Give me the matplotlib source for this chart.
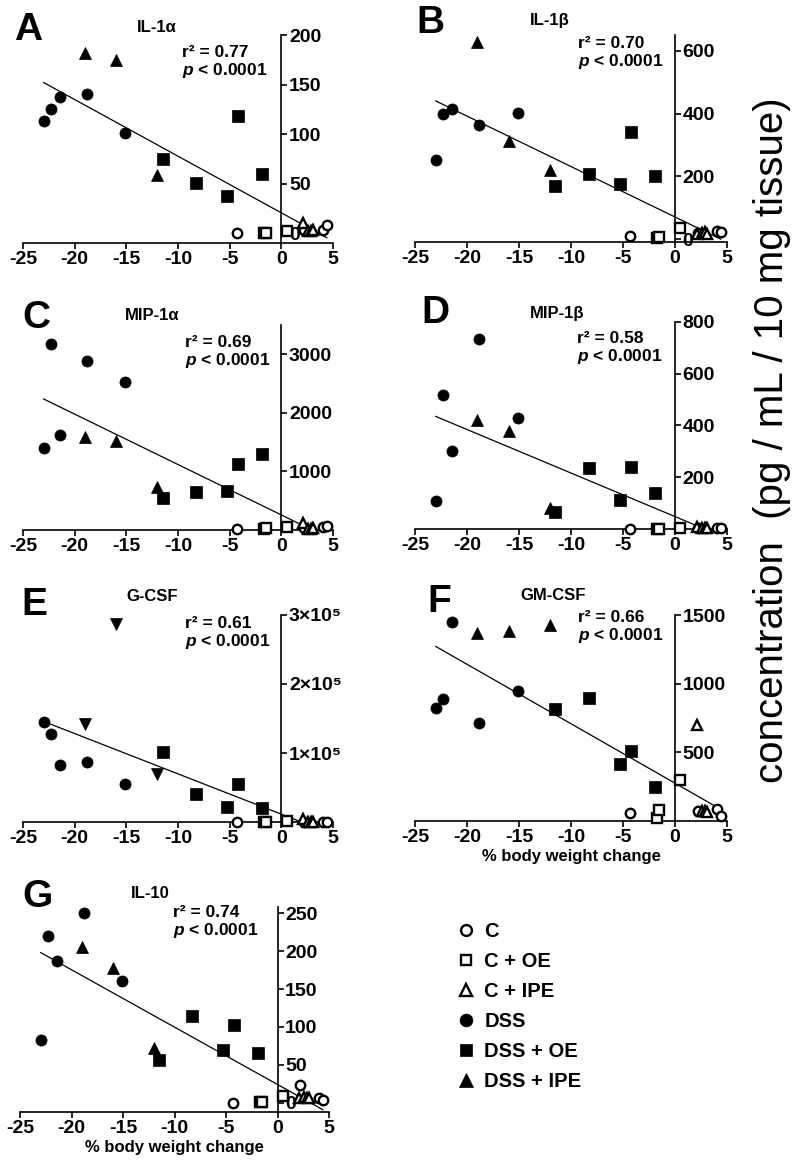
import matplotlib
matplotlib.use('Agg')
import matplotlib.pyplot as plt

plt.rcParams['font.family'] = ['Liberation Sans', 'DejaVu Sans']
plt.rcParams['font.weight'] = 'bold'
plt.rcParams['axes.unicode_minus'] = False
plt.rcParams['mathtext.fontset'] = 'custom'
plt.rcParams['mathtext.rm'] = 'Liberation Sans:bold'
plt.rcParams['mathtext.it'] = 'Liberation Sans:bold:italic'
plt.rcParams['mathtext.bf'] = 'Liberation Sans:bold'

# % body weight change of each animal, by group
x_c = [-4.3, 2.2, 4.0, 4.4]
x_c_oe = [-1.7, -1.5, 0.5]
x_c_ipe = [2.1, 2.6, 2.9, 3.1]
x_dss = [-23.0, -22.3, -21.4, -18.8, -15.1]
x_dss_oe = [-11.5, -8.3, -5.3, -4.2, -1.9]
x_dss_ipe = [-19.0, -16.0, -12.0]

# concentrations, one list per group and cytokine (order: C, C+OE, C+IPE, DSS, DSS+OE, DSS+IPE)
il1a = [[0, 3, 3, 8], [0, 0, 2], [10, 2, 2, 3],
        [113, 125, 137, 140, 101], [75, 51, 37, 118, 60], [182, 175, 59]]
il1b = [[10, 20, 26, 24], [3, 8, 35], [18, 20, 22, 15],
        [253, 400, 413, 365, 403], [168, 209, 176, 342, 200], [627, 312, 221]]
mip1a = [[0, 20, 40, 60], [15, 20, 40], [110, 15, 10, 20],
         [1397, 3176, 1622, 2876, 2520], [532, 634, 656, 1125, 1283], [1583, 1515, 719]]
mip1b = [[0, 3, 3, 3], [0, 0, 2], [8, 2, 2, 3],
         [109, 517, 302, 734, 430], [64, 235, 114, 241, 138], [423, 377, 83]]
gcsf = [[0, 500, 500, 500], [0, 0, 1000], [5000, 0, 0, 0],
        [144500, 128100, 83000, 86300, 54900], [101500, 40800, 21400, 55300, 19900],
        [142600, 287000, 69900]]
gmcsf = [[60, 70, 84, 40], [23, 78, 296], [701, 70, 75, 68],
         [822, 887, 1446, 713, 943], [815, 895, 418, 507, 246], [1367, 1386, 1427]]
il10 = [[0, 23, 7, 4], [1, 1, 9], [7, 8, 6, 7],
        [83, 220, 187, 250, 161], [56, 115, 70, 103, 66], [205, 178, 72]]

# regression line ends (at x = -23 and x = 4.4)
fit_x = [-23.0, 4.4]
fit_il1a = [152, -4.7]
fit_il1b = [440, 0]
fit_mip1a = [2233, -132]
fit_mip1b = [435, -26]
fit_gcsf = [145700, -14400]
fit_gmcsf = [1271, 85]
fit_il10 = [198, -9]

titles = ['IL-1α', 'IL-1β', 'MIP-1α', 'MIP-1β', 'G-CSF', 'GM-CSF', 'IL-10']
letters = ['A', 'B', 'C', 'D', 'E', 'F', 'G']
r2_values = ['0.77', '0.70', '0.69', '0.58', '0.61', '0.66', '0.74']
group_names = ['C', 'C + OE', 'C + IPE', 'DSS', 'DSS + OE', 'DSS + IPE']
x_ticks = [-25, -20, -15, -10, -5, 0, 5]

y_ticks = [[0, 50, 100, 150, 200], [0, 200, 400, 600], [1000, 2000, 3000],
           [200, 400, 600, 800], [100000, 200000, 300000], [500, 1000, 1500],
           [0, 50, 100, 150, 200, 250]]
y_lims = [(-10, 200), (-9, 650), (-10, 3500), (0, 800), (0, 300000), (0, 1500), (-12, 258)]
gcsf_labels = ['1×10⁵', '2×10⁵', '3×10⁵']

W, H = 800, 1166
# axes boxes in pixels: left, top, right, bottom
boxes = [(23, 35, 333, 243), (415, 35, 727, 242), (23, 325, 333, 530),
         (415, 322, 727, 529), (23, 615, 333, 822), (415, 615, 727, 821),
         (20, 907, 329, 1112)]
letter_pos = [(14, 40), (416, 33), (22, 328), (421, 323), (21, 615), (427, 612), (22, 907)]
title_pos = [(157, 32), (550, 25), (152, 320), (557, 318), (152, 601), (553, 600), (150, 898)]
stat_pos = [(182, 57), (578, 48), (185, 347), (577, 343), (185, 628), (578, 622), (173, 917)]

xs = [x_c, x_c_oe, x_c_ipe, x_dss, x_dss_oe, x_dss_ipe]
styles = [('o', 'white'), ('s', 'white'), ('^', 'white'),
          ('o', 'black'), ('s', 'black'), ('^', 'black')]


def fx(px):
    return px / W


def fy(py):
    return 1 - py / H


fig = plt.figure(figsize=(8, 11.66), dpi=100)

datasets = [il1a, il1b, mip1a, mip1b, gcsf, gmcsf, il10]
fits = [fit_il1a, fit_il1b, fit_mip1a, fit_mip1b, fit_gcsf, fit_gmcsf, fit_il10]

legend_handles = []
for i, (ys, fit) in enumerate(zip(datasets, fits)):
    l, t, r, b = boxes[i]
    ax = fig.add_axes([fx(l), fy(b), (r - l) / W, (b - t) / H])
    ax.set_facecolor('none')

    ax.plot(fit_x, fit, color='black', lw=0.9, zorder=2)
    for g in [3, 4, 5, 0, 1, 2]:
        marker, face = styles[g]
        if i == 4 and g == 5:
            marker = 'v'
        ms = 8.5 if marker in '^v' else 8
        mew = 1.7 if face == 'white' else 0.5
        if face == 'white':
            ms -= 1.2
        h, = ax.plot(xs[g], ys[g], ls='none', marker=marker, ms=ms, mfc=face,
                     mec='black', mew=mew, clip_on=False, zorder=3, label=group_names[g])
        if i == 0:
            legend_handles.append((g, h))

    ax.set_xlim(-25, 5)
    ax.set_ylim(*y_lims[i])
    ax.set_xticks(x_ticks)
    ax.set_yticks(y_ticks[i])
    if i == 4:
        ax.set_yticklabels(gcsf_labels, fontweight='normal', fontsize=11)

    ax.spines['left'].set_visible(False)
    ax.spines['top'].set_visible(False)
    ax.spines['right'].set_position(('data', 0))
    ax.spines['right'].set_linewidth(1.2)
    ax.spines['bottom'].set_linewidth(1.2)
    ax.yaxis.tick_right()
    ax.tick_params(axis='x', direction='out', length=4, width=1.2, labelsize=14, pad=2)
    ax.tick_params(axis='y', direction='out', length=4, width=1.2, labelsize=14, pad=1.5)

    if i in (5, 6):
        ax.set_xlabel('% body weight change', fontsize=12, fontweight='bold', labelpad=2)

    fig.text(fx(letter_pos[i][0]), fy(letter_pos[i][1]), letters[i], fontsize=28,
             ha='left', va='baseline')
    fig.text(fx(title_pos[i][0]), fy(title_pos[i][1]), titles[i], fontsize=12,
             ha='center', va='baseline')
    sx, sy = stat_pos[i]
    fig.text(fx(sx), fy(sy), 'r² = ' + r2_values[i], fontsize=12.5, ha='left', va='baseline')
    fig.text(fx(sx), fy(sy + 18), '$p$ < 0.0001', fontsize=12.5, ha='left', va='baseline')

legend_handles.sort(key=lambda item: item[0])
handles = [h for _, h in legend_handles]
fig.legend(handles, group_names, loc='upper left', bbox_to_anchor=(fx(447), fy(912)),
           frameon=False, fontsize=14.5, markerscale=1.15, handlelength=0.9,
           handletextpad=0.45, labelspacing=0.55, borderpad=0)

fig.text(fx(772), fy(440), 'concentration  (pg / mL / 10 mg tissue)', rotation=90,
         fontsize=29, fontweight='normal', ha='center', va='center')

fig.savefig('out.png', dpi=100)
